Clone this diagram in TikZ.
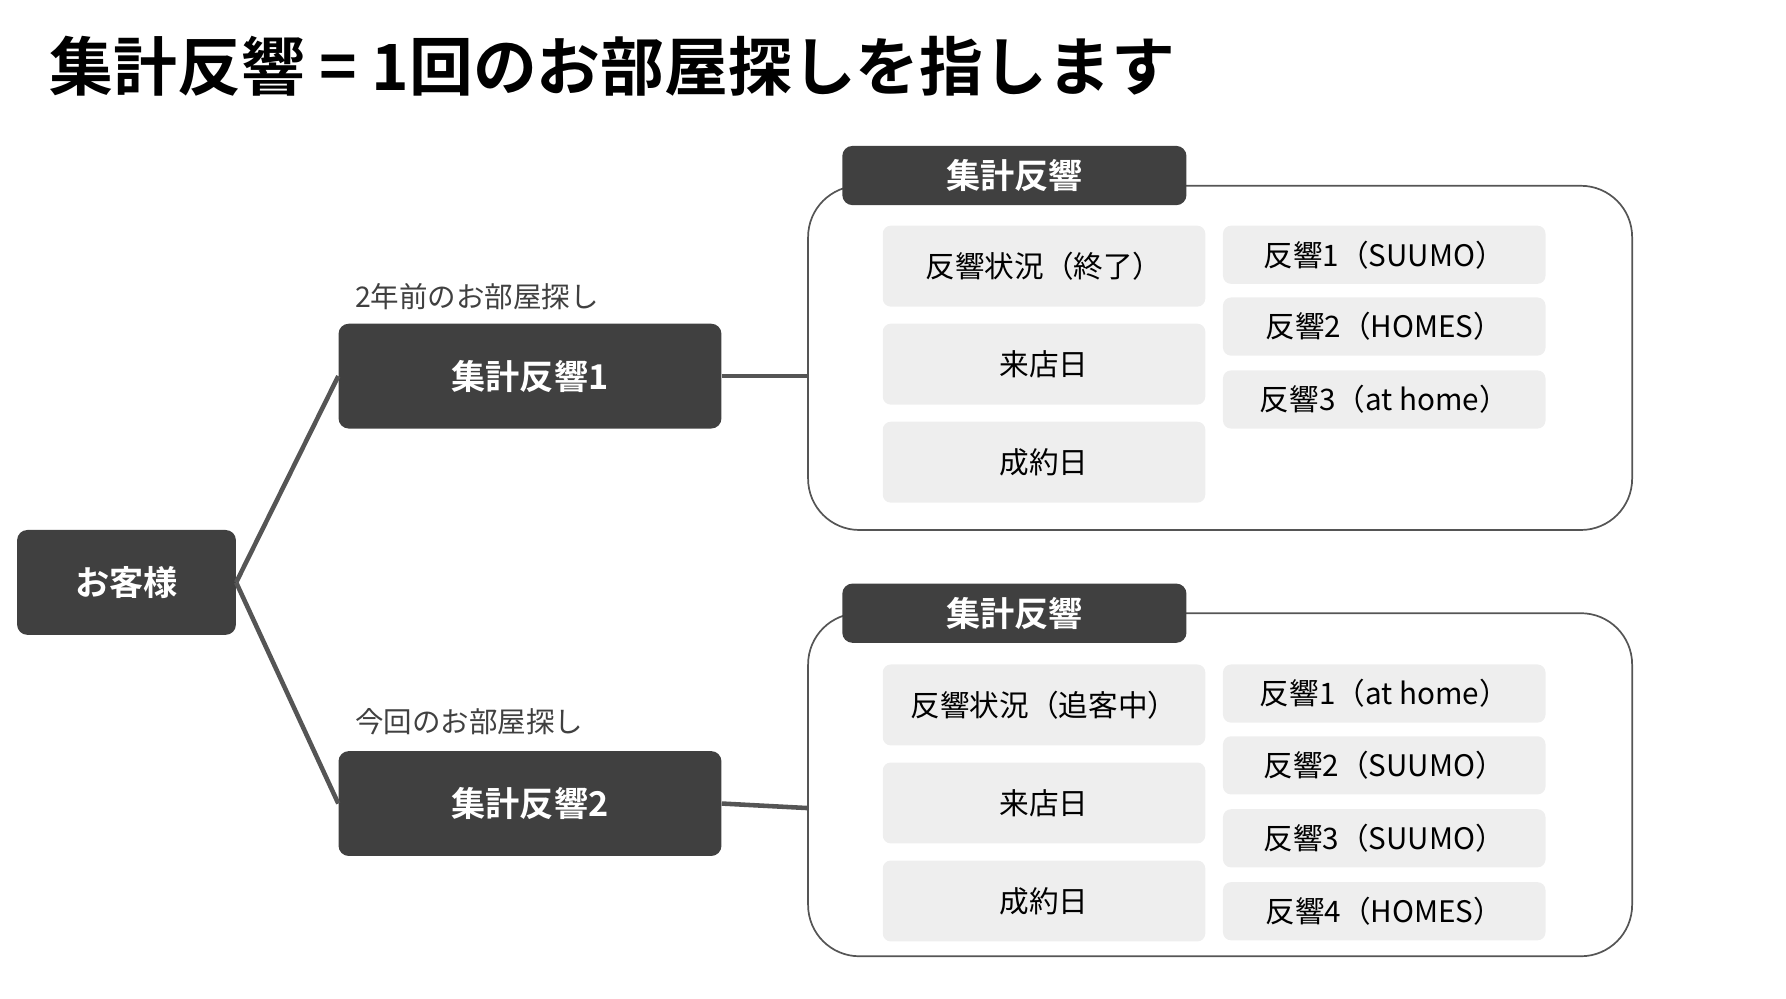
\documentclass[tikz,border=0pt]{standalone}
\usepackage{fontspec}
\setmainfont{Noto Sans CJK JP}
\newfontfamily\jpbold{Noto Sans CJK JP Bold}
\usetikzlibrary{positioning}
\definecolor{darkbox}{HTML}{404040}
\definecolor{cellgray}{HTML}{EEEEEE}
\definecolor{linegray}{HTML}{555555}
\begin{document}
\begin{tikzpicture}[
    x=1pt, y=-1pt,
    dark/.style={rectangle, rounded corners=9pt, fill=darkbox, text=white, font=\jpbold\fontsize{30}{30}\selectfont, inner sep=0pt},
    cell/.style={rectangle, rounded corners=7pt, fill=cellgray, font=\fontsize{26}{26}\selectfont, inner sep=0pt, minimum width=283pt},
    group/.style={draw=linegray, line width=1.5pt, rounded corners=45pt},
    branch/.style={draw=linegray, line width=4pt},
    note/.style={font=\fontsize{25}{25}\selectfont, text=darkgray, anchor=west}
  ]
    \useasboundingbox (0,0) rectangle (1567,876);
    % Title
    \node[anchor=west, font=\jpbold\fontsize{56}{56}\selectfont] (title) at (40,58) {集計反響 = 1回のお部屋探しを指します};

    % Customer and search nodes
    \node[dark, minimum width=192pt, minimum height=92pt] (cust) at (111,511) {お客様};
    \node[dark, minimum width=336pt, minimum height=92pt] (agg1) at (465,330) {集計反響1};
    \node[dark, minimum width=336pt, minimum height=92pt] (agg2) at (465,705) {集計反響2};
    \node[note] (lbl1) at (308,260) {2年前のお部屋探し};
    \node[note] (lbl2) at (308,633) {今回のお部屋探し};

    % Groups
    \draw[group] (709,163) rectangle (1432,465);
    \draw[group] (709,538) rectangle (1432,839);
    \node[dark, minimum width=302pt, minimum height=52pt] (head1) at (890,154) {集計反響};
    \node[dark, minimum width=302pt, minimum height=52pt] (head2) at (890,538) {集計反響};
    \coordinate (in1) at (709,330);
    \coordinate (in2) at (709,709);

    % Branches
    \draw[branch] (cust.east) -- (agg1.west);
    \draw[branch] (cust.east) -- (agg2.west);
    \draw[branch] (agg1.east) -- (in1);
    \draw[branch] (agg2.east) -- (in2);

    % Cells of group 1
    \node[cell, minimum height=71pt] (st1) at (916,233.5) {反響状況（終了）};
    \node[cell, minimum height=71pt] (vis1) at (916,319.5) {来店日};
    \node[cell, minimum height=71pt] (con1) at (916,405.5) {成約日};
    \foreach \y/\t [count=\i] in {223.5/SUUMO, 286.5/HOMES, 350.5/at home}
      \node[cell, minimum height=51pt] (r1\i) at (1214.5,\y) {反響\i（\t）};

    % Cells of group 2
    \node[cell, minimum height=71pt] (st2) at (916,618.5) {反響状況（追客中）};
    \node[cell, minimum height=71pt] (vis2) at (916,704.5) {来店日};
    \node[cell, minimum height=71pt] (con2) at (916,790.5) {成約日};
    \foreach \y/\t [count=\i] in {608.5/at home, 671.5/SUUMO, 735.5/SUUMO, 799.5/HOMES}
      \node[cell, minimum height=51pt] (r2\i) at (1214.5,\y) {反響\i（\t）};
\end{tikzpicture}
\end{document}
